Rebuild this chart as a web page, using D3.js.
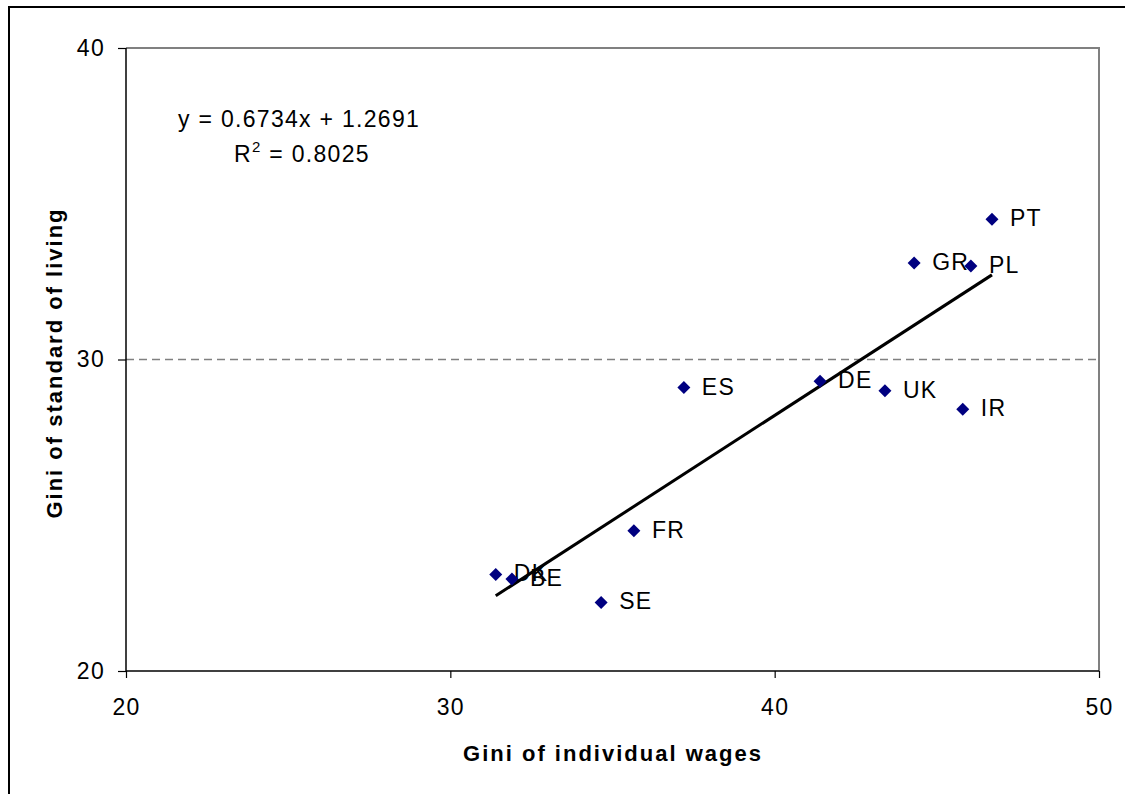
<!DOCTYPE html>
<html>
<head>
<meta charset="utf-8">
<script src="https://cdn.jsdelivr.net/npm/d3@7"></script>
<style>
  body { margin: 0; background: #fff; }
  svg { display: block; font-family: "Liberation Sans", Arial, sans-serif; }
  .lbl { font-size: 23px; letter-spacing: 1.3px; fill: #000; }
  .title { font-size: 22px; font-weight: bold; letter-spacing: 2px; fill: #000; }
</style>
</head>
<body>
<div id="chart"></div>
<script>
// countries, wage gini (x) and standard of living gini (y)
var countries = ['DK', 'BE', 'SE', 'FR', 'ES', 'DE', 'UK', 'IR', 'PT', 'GR', 'PL'];
var wageGini  = [31.4, 31.9, 34.65, 35.66, 37.2, 41.4, 43.4, 45.8, 46.7, 44.3, 46.05];
var livingGini = [23.1, 22.95, 22.2, 24.5, 29.1, 29.3, 29.0, 28.4, 34.5, 33.1, 33.0];
var xTicks = [20, 30, 40, 50];
var yTicks = [20, 30, 40];
var slope = 0.6734, intercept = 1.2691;
var rSquared = 0.8025;
var refLine = 30;

var W = 1125, H = 794;
var margin = {top: 48, right: 26, bottom: 123, left: 126};
var width = W - margin.left - margin.right,
    height = H - margin.top - margin.bottom;

var data = countries.map(function(c, i) {
  return {name: c, x: wageGini[i], y: livingGini[i]};
});

var svg = d3.select('#chart').append('svg')
  .attr('width', W)
  .attr('height', H);

// outer frame (runs off the right and bottom edges)
svg.append('rect')
  .attr('x', 9).attr('y', 7)
  .attr('width', W + 20).attr('height', H + 20)
  .attr('fill', 'none')
  .attr('stroke', '#000')
  .attr('stroke-width', 2);

var chart = svg.append('g')
  .attr('transform', 'translate(' + margin.left + ',' + margin.top + ')');

var x = d3.scaleLinear().domain([20, 50]).range([0, width]);
var y = d3.scaleLinear().domain([20, 40]).range([height, 0]);

// plot area border (top and right in grey)
chart.append('path')
  .attr('d', 'M0,0H' + width + 'V' + height)
  .attr('fill', 'none')
  .attr('stroke', '#808080')
  .attr('stroke-width', 2);

// dashed reference line at 30
chart.append('line')
  .attr('x1', 0).attr('x2', width)
  .attr('y1', y(refLine)).attr('y2', y(refLine))
  .attr('stroke', '#808080')
  .attr('stroke-width', 1.5)
  .attr('stroke-dasharray', '8,5');

var xAxis = d3.axisBottom(x).tickValues(xTicks).tickSize(7).tickPadding(21).tickFormat(d3.format('d'));
var yAxis = d3.axisLeft(y).tickValues(yTicks).tickSize(8).tickPadding(13).tickFormat(d3.format('d'));

var gx = chart.append('g')
  .attr('transform', 'translate(0,' + height + ')')
  .call(xAxis);
var gy = chart.append('g').call(yAxis);

[gx, gy].forEach(function(g) {
  g.attr('font-family', null).attr('font-size', null);
  g.select('.domain').attr('stroke', '#000').attr('stroke-width', 1.5);
  g.selectAll('.tick line').attr('stroke', '#000').attr('stroke-width', 1.2);
  g.selectAll('.tick text').attr('class', 'lbl');
});
gx.select('.domain').attr('d', 'M0,0H' + width);
gy.select('.domain').attr('d', 'M0,' + height + 'V0');

// trend line across the data range
var xs = d3.extent(wageGini);
chart.append('line')
  .attr('x1', x(xs[0])).attr('y1', y(slope * xs[0] + intercept))
  .attr('x2', x(xs[1])).attr('y2', y(slope * xs[1] + intercept))
  .attr('stroke', '#000')
  .attr('stroke-width', 3);

var item = chart.selectAll('.item')
  .data(data)
  .enter().append('g')
  .attr('class', 'item')
  .attr('transform', function(d) { return 'translate(' + x(d.x) + ',' + y(d.y) + ')'; });

item.append('path')
  .attr('d', 'M0,-6.5L6.5,0L0,6.5L-6.5,0Z')
  .attr('fill', '#000080');

item.append('text')
  .attr('class', 'lbl')
  .attr('x', 18)
  .attr('y', 7)
  .text(function(d) { return d.name; });

// regression equation
svg.append('text')
  .attr('class', 'lbl')
  .attr('x', 178).attr('y', 127)
  .text('y = ' + slope + 'x + ' + intercept);
var r2 = svg.append('text')
  .attr('class', 'lbl')
  .attr('x', 234).attr('y', 162);
r2.append('tspan').text('R');
r2.append('tspan').attr('dy', -10).style('font-size', '15px').text('2');
r2.append('tspan').attr('dy', 10).text(' = ' + rSquared);

// axis titles
svg.append('text')
  .attr('class', 'title')
  .attr('x', 613)
  .attr('y', 761)
  .attr('text-anchor', 'middle')
  .text('Gini of individual wages');

svg.append('text')
  .attr('class', 'title')
  .attr('transform', 'translate(62,363) rotate(-90)')
  .attr('text-anchor', 'middle')
  .text('Gini of standard of living');
</script>
</body>
</html>
